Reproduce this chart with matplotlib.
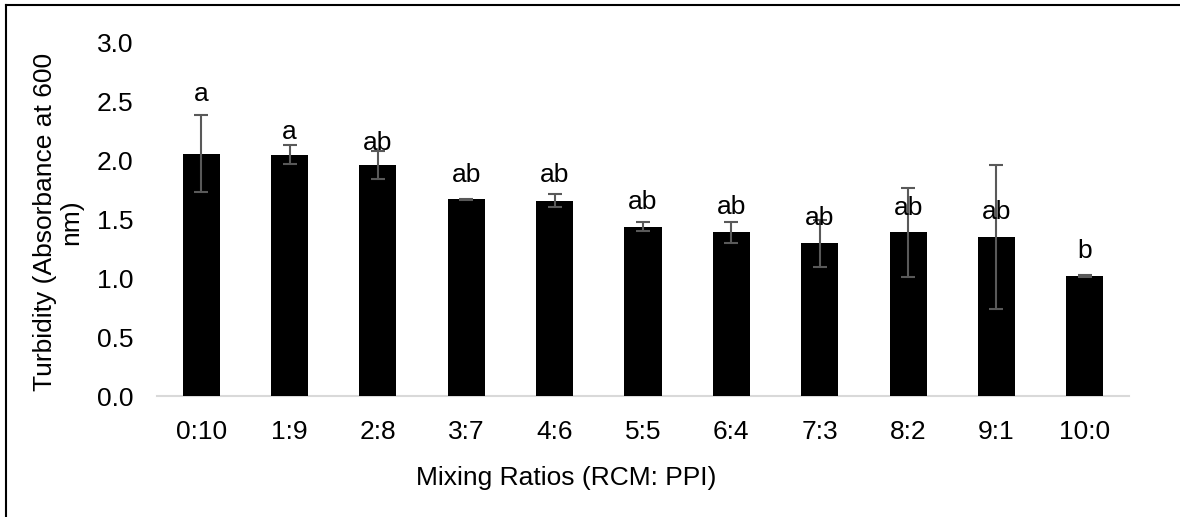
import matplotlib
matplotlib.use("Agg")
import matplotlib.pyplot as plt
from matplotlib.lines import Line2D

categories = ["0:10", "1:9", "2:8", "3:7", "4:6", "5:5", "6:4", "7:3", "8:2", "9:1", "10:0"]
means = [2.06, 2.05, 1.96, 1.67, 1.66, 1.44, 1.39, 1.30, 1.39, 1.35, 1.02]
errors = [0.33, 0.08, 0.12, 0.005, 0.055, 0.04, 0.09, 0.20, 0.375, 0.61, 0.005]
letters = ["a", "a", "ab", "ab", "ab", "ab", "ab", "ab", "ab", "ab", "b"]
letter_y = [2.57, 2.245, 2.15, 1.88, 1.88, 1.65, 1.61, 1.51, 1.60, 1.56, 1.235]
yticks = [0.0, 0.5, 1.0, 1.5, 2.0, 2.5, 3.0]

plt.rcParams['font.family'] = ['Liberation Sans', 'DejaVu Sans']
FS = 19

W, H = 1180, 517
fig = plt.figure(figsize=(W / 100, H / 100), dpi=100)
ax = fig.add_axes([157 / W, 1 - 396 / H, (1129 - 157) / W, (396 - 43) / H])

x = list(range(len(categories)))
ax.bar(x, means, width=0.42, color="black", zorder=2)
ax.errorbar(x, means, yerr=errors, fmt="none", ecolor="#595959", elinewidth=1.5,
            capsize=5, capthick=1.5, zorder=3)
for xi, t, ly in zip(x, letters, letter_y):
    ax.text(xi, ly, t, ha="center", va="center", fontsize=FS, color="black", zorder=4)

ax.set_xlim(-0.5, len(categories) - 0.5)
ax.set_ylim(0, 3.0)
ax.set_yticks(yticks)
ax.set_yticklabels([f"{v:.1f}" for v in yticks])
ax.set_xticks(x)
ax.set_xticklabels(categories)
ax.tick_params(axis="both", length=0, labelsize=FS, colors="black")
ax.tick_params(axis="y", pad=17)
ax.tick_params(axis="x", pad=17)
for s in ["top", "right", "left"]:
    ax.spines[s].set_visible(False)
ax.spines["bottom"].set_color("#d9d9d9")
ax.spines["bottom"].set_linewidth(1.5)
ax.spines["bottom"].set_zorder(1)

fig.text(566 / W, 1 - 478 / H, "Mixing Ratios (RCM: PPI)", ha="center", va="center", fontsize=FS)
fig.text(58 / W, 1 - 222 / H, "Turbidity (Absorbance at 600\nnm)", ha="center", va="center",
         rotation=90, fontsize=FS, multialignment="center", linespacing=1.1)

# figure border (top and left visible)
fig.add_artist(Line2D([6 / W, 6 / W], [0, 1 - 5 / H], color="black", lw=1.5, transform=fig.transFigure))
fig.add_artist(Line2D([6 / W, 1], [1 - 5 / H, 1 - 5 / H], color="black", lw=1.5, transform=fig.transFigure))

fig.savefig("out.png", dpi=100)
